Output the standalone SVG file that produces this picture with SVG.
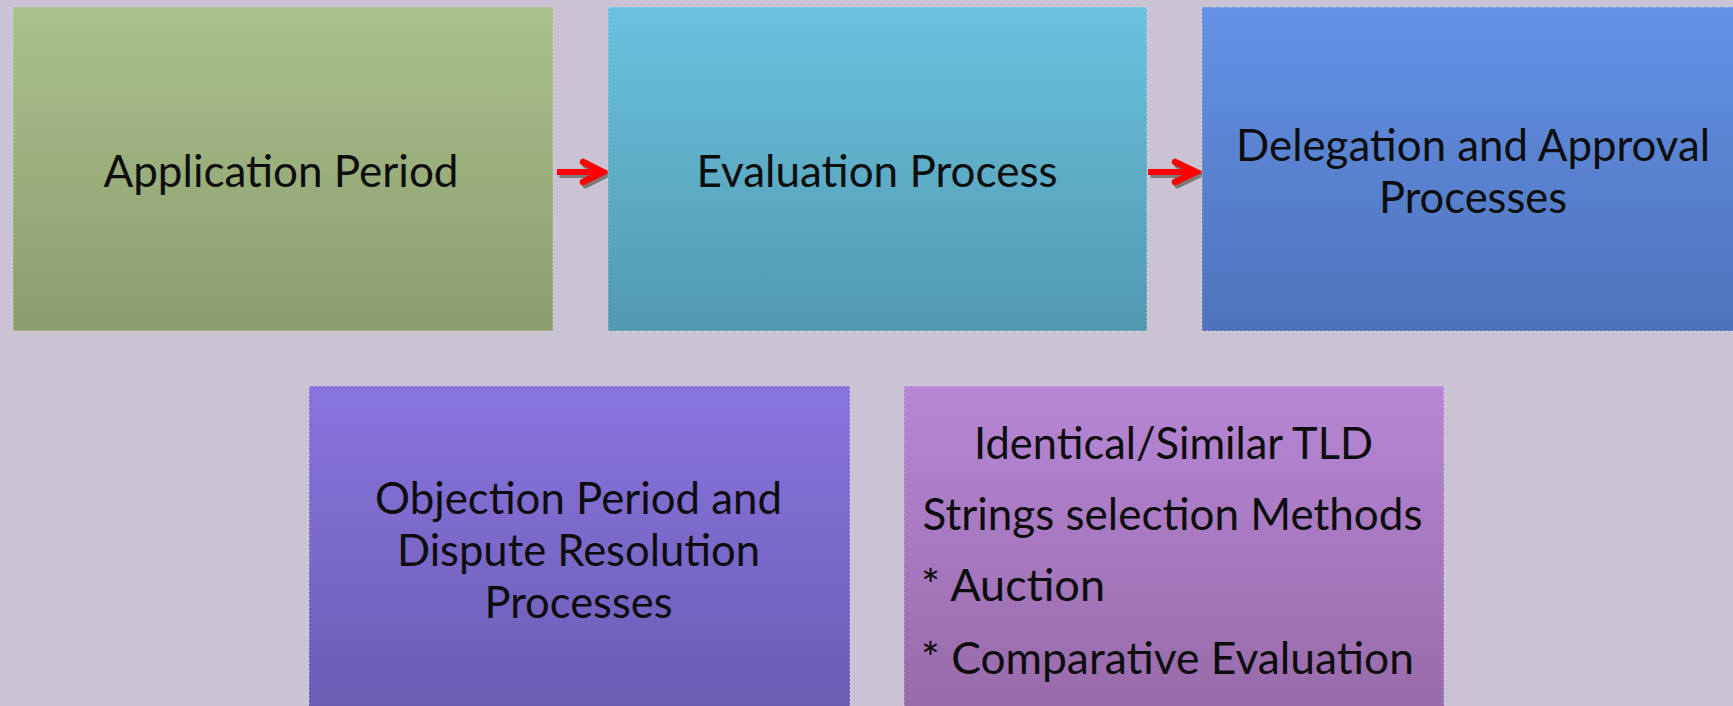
<svg xmlns="http://www.w3.org/2000/svg" width="1733" height="706" viewBox="0 0 1733 706">
<style>
.box{stroke:#e6e2ec;stroke-opacity:0.55;stroke-width:1;stroke-dasharray:2 2}
.t{font-family:Lato,"Open Sans","Liberation Sans",sans-serif;font-size:43.5px;fill:#0d0d0d;text-anchor:middle}
.tl{text-anchor:start}
.shaft{fill:none;stroke:#ff0000;stroke-width:6}
.head{fill:none;stroke:#ff0000;stroke-width:6.5;stroke-linecap:round;stroke-linejoin:miter}
.sh{stroke:#7a7a7a}
</style>
<defs>
<linearGradient id="g1" x1="0" y1="0" x2="0" y2="1"><stop offset="0" stop-color="#a9c18d"/><stop offset="1" stop-color="#8d9d6d"/></linearGradient>
<linearGradient id="g2" x1="0" y1="0" x2="0" y2="1"><stop offset="0" stop-color="#6ac2de"/><stop offset="1" stop-color="#5299b1"/></linearGradient>
<linearGradient id="g3" x1="0" y1="0" x2="0" y2="1"><stop offset="0" stop-color="#6392e6"/><stop offset="1" stop-color="#4e73ba"/></linearGradient>
<linearGradient id="g4" x1="0" y1="0" x2="0" y2="1"><stop offset="0" stop-color="#8a75df"/><stop offset="1" stop-color="#6b5bb2"/></linearGradient>
<linearGradient id="g5" x1="0" y1="0" x2="0" y2="1"><stop offset="0" stop-color="#b787d6"/><stop offset="1" stop-color="#976aa8"/></linearGradient>
</defs>
<rect x="0" y="0" width="1733" height="706" fill="#c9c3d3"/>

<g id="connectors">
  <g id="arrow1">
    <g transform="translate(2.5,3)">
      <line class="shaft sh" x1="557" y1="172" x2="600" y2="172"/>
      <polyline class="head sh" points="583,162 603,172 583,182"/>
    </g>
    <line class="shaft" x1="557" y1="172" x2="600" y2="172"/>
    <polyline class="head" points="583,162 603,172 583,182"/>
  </g>
  <g id="arrow2">
    <g transform="translate(2.5,3)">
      <line class="shaft sh" x1="1148" y1="172" x2="1193" y2="172"/>
      <polyline class="head sh" points="1175,162 1196,172 1175,182"/>
    </g>
    <line class="shaft" x1="1148" y1="172" x2="1193" y2="172"/>
    <polyline class="head" points="1175,162 1196,172 1175,182"/>
  </g>
</g>

<g id="node-application">
  <rect class="box" x="13" y="7" width="540" height="324" fill="url(#g1)"/>
  <text class="t" x="281" y="187" textLength="355" lengthAdjust="spacingAndGlyphs">Application Period</text>
</g>
<g id="node-evaluation">
  <rect class="box" x="608" y="7" width="539" height="324" fill="url(#g2)"/>
  <text class="t" x="877" y="187" textLength="361" lengthAdjust="spacingAndGlyphs">Evaluation Process</text>
</g>
<g id="node-delegation">
  <rect class="box" x="1202" y="7" width="539" height="324" fill="url(#g3)"/>
  <text class="t" x="1473" y="161" textLength="474" lengthAdjust="spacingAndGlyphs">Delegation and Approval</text>
  <text class="t" x="1473" y="213" textLength="188" lengthAdjust="spacingAndGlyphs">Processes</text>
</g>
<g id="node-objection">
  <rect class="box" x="309" y="386" width="541" height="330" fill="url(#g4)"/>
  <text class="t" x="578.5" y="514" textLength="407" lengthAdjust="spacingAndGlyphs">Objection Period and</text>
  <text class="t" x="578.5" y="566" textLength="363" lengthAdjust="spacingAndGlyphs">Dispute Resolution</text>
  <text class="t" x="578.5" y="618" textLength="188" lengthAdjust="spacingAndGlyphs">Processes</text>
</g>
<g id="node-selection">
  <rect class="box" x="904" y="386" width="540" height="330" fill="url(#g5)"/>
  <text class="t" x="1173.5" y="459" textLength="399" lengthAdjust="spacingAndGlyphs">Identical/Similar TLD</text>
  <text class="t" x="1172.5" y="530" textLength="500" lengthAdjust="spacingAndGlyphs">Strings selection Methods</text>
  <text class="t tl" x="921" y="601" textLength="184" lengthAdjust="spacingAndGlyphs">* Auction</text>
  <text class="t tl" x="921" y="674" textLength="493" lengthAdjust="spacingAndGlyphs">* Comparative Evaluation</text>
</g>
</svg>
